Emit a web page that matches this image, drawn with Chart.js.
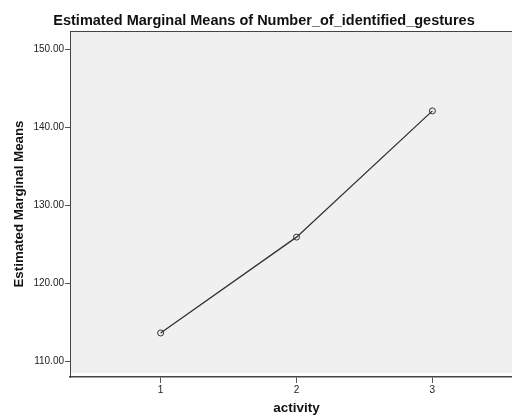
<!DOCTYPE html>
<html>
<head>
<meta charset="utf-8">
<script src="https://cdn.jsdelivr.net/npm/chart.js@4/dist/chart.umd.min.js"></script>
<style>
  html, body { margin: 0; padding: 0; background: #fff; overflow: hidden; }
  #wrap { width: 528px; height: 417px; }
</style>
</head>
<body>
<div id="wrap"><canvas id="chart1"></canvas></div>
<script>
// data
var activity = [1, 2, 3];
var activityLabels = ['1', '2', '3'];
var means = [113.6, 125.9, 142.1];
var yTicks = [110, 120, 130, 140, 150];

// grey plot box with a frame, like the SPSS output
var plotBox = {
  id: 'plotBox',
  beforeDraw: function (chart) {
    var a = chart.chartArea;
    var c = chart.ctx;
    c.save();
    c.fillStyle = '#f0f0f0';
    c.fillRect(a.left, a.top, a.right - a.left, a.bottom - a.top - 4);
    c.strokeStyle = '#444';
    c.lineWidth = 1;
    c.beginPath();
    c.moveTo(a.left, a.top + 0.5);
    c.lineTo(a.right, a.top + 0.5);
    c.stroke();
    c.restore();
  }
};

var ctx1 = document.getElementById('chart1').getContext('2d');
var chart1 = new Chart(ctx1, {
  type: 'line',
  data: {
    datasets: [{
      label: 'activity',
      data: activity.map(function (x, i) { return { x: x, y: means[i] }; }),
      borderColor: '#333',
      borderWidth: 1.3,
      pointRadius: 3,
      pointBorderWidth: 1,
      pointBorderColor: '#333',
      pointBackgroundColor: 'rgba(0,0,0,0)',
      tension: 0
    }]
  },
  options: {
    responsive: true,
    maintainAspectRatio: false,
    animation: false,
    layout: { padding: 0 },
    plugins: {
      legend: { display: false },
      tooltip: { enabled: false },
      title: {
        display: true,
        text: 'Estimated Marginal Means of Number_of_identified_gestures',
        color: '#111',
        font: { family: 'Liberation Sans, Arial, sans-serif', size: 14.5, weight: 'bold' },
        padding: { top: 12.3, bottom: 1.3 }
      }
    },
    scales: {
      x: {
        type: 'linear',
        min: 1 / 3,
        max: 11 / 3,
        afterBuildTicks: function (s) { s.ticks = activity.map(function (v) { return { value: v }; }); },
        afterFit: function (s) { s.height = 40; },
        ticks: {
          color: '#222',
          padding: 1,
          font: { family: 'Liberation Sans, Arial, sans-serif', size: 10 },
          callback: function (v) { return activityLabels[activity.indexOf(v)]; }
        },
        grid: { drawOnChartArea: false, tickLength: 6, color: '#555' },
        border: { color: '#444', width: 1.5 },
        title: {
          display: true,
          text: 'activity',
          color: '#111',
          font: { family: 'Liberation Sans, Arial, sans-serif', size: 13.5, weight: 'bold' },
          padding: { top: 0, bottom: 1 }
        }
      },
      y: {
        min: 107.95,
        max: 152.35,
        afterBuildTicks: function (s) { s.ticks = yTicks.map(function (v) { return { value: v }; }); },
        afterFit: function (s) { s.width = 70; },
        ticks: {
          color: '#222',
          padding: 1,
          font: { family: 'Liberation Sans, Arial, sans-serif', size: 10 },
          callback: function (v) { return v.toFixed(2); }
        },
        grid: { drawOnChartArea: false, tickLength: 5, color: '#555' },
        border: { color: '#444', width: 1 },
        title: {
          display: true,
          text: 'Estimated Marginal Means',
          color: '#111',
          font: { family: 'Liberation Sans, Arial, sans-serif', size: 13.3, weight: 'bold' },
          padding: { top: 11, bottom: 0 }
        }
      }
    }
  },
  plugins: [plotBox]
});
</script>
</body>
</html>
